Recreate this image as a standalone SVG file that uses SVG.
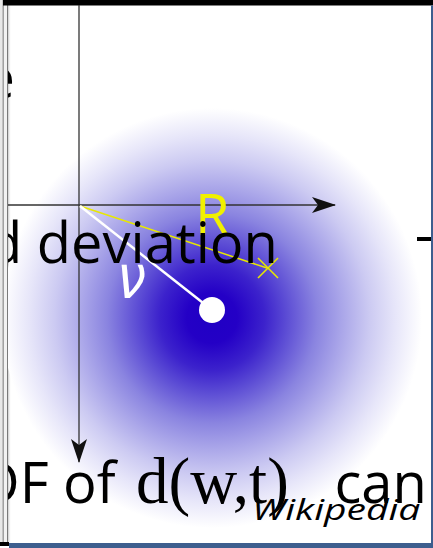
<svg xmlns="http://www.w3.org/2000/svg" width="433" height="548" viewBox="0 0 433 548">
<style>
.big{font-family:"Open Sans","Noto Sans",sans-serif;font-size:56px;fill:#000}
.serif{font-family:"Liberation Serif","DejaVu Serif",serif;font-size:65px}
.axis{stroke:#333333;stroke-width:1.3;fill:none}
</style>
<defs>
<radialGradient id="blob" gradientUnits="userSpaceOnUse" cx="212" cy="318" r="210">
<stop offset="0" stop-color="#2000c4"/>
<stop offset="0.12" stop-color="#2400c6"/>
<stop offset="0.25" stop-color="#3c22cc"/>
<stop offset="0.35" stop-color="#5a4ad4"/>
<stop offset="0.5" stop-color="#8a84e0"/>
<stop offset="0.62" stop-color="#aaa6e9"/>
<stop offset="0.75" stop-color="#cccaf2"/>
<stop offset="0.87" stop-color="#e6e5f9"/>
<stop offset="1" stop-color="#ffffff"/>
</radialGradient>
<linearGradient id="edge" x1="0" y1="0" x2="1" y2="0">
<stop offset="0" stop-color="#d6d6d6"/>
<stop offset="1" stop-color="#ffffff" stop-opacity="0"/>
</linearGradient>
<clipPath id="slide"><rect x="8" y="5" width="423" height="538"/></clipPath>
<marker id="arr" viewBox="0 0 24 16" refX="23" refY="8" markerWidth="24" markerHeight="16" markerUnits="userSpaceOnUse" orient="auto">
<path d="M0,0 L24,8 L0,16 L6,8 Z" fill="#111"/>
</marker>
</defs>
<rect width="433" height="548" fill="#ffffff"/>
<g id="chrome">
<rect x="0" y="0" width="3" height="542" fill="#e8e8e8"/>
<rect x="2.6" y="0" width="1.2" height="542" fill="#8a8a8a"/>
<rect x="4" y="0" width="3" height="542" fill="#f2f2f2"/>
<rect x="7" y="0" width="1.3" height="542" fill="#7a7a7a"/>
<rect x="8.3" y="5" width="3" height="538" fill="url(#edge)"/>
<rect x="3" y="0" width="430" height="5.5" fill="#000"/>
<rect x="431" y="5.5" width="2" height="543" fill="#3d5e8e"/>
<rect x="9" y="543" width="424" height="5" fill="#3d5e8e"/>
<rect x="0" y="542" width="9" height="4" fill="#000"/>
</g>
<g clip-path="url(#slide)">
<g id="figure">
<circle cx="212" cy="318" r="210" fill="url(#blob)"/>
<g id="connectors">
<line class="axis" x1="79" y1="5" x2="79" y2="462" marker-end="url(#arr)"/>
<line class="axis" x1="8" y1="205" x2="335" y2="205" marker-end="url(#arr)"/>
<line x1="80" y1="206" x2="267" y2="268" stroke="#e8e800" stroke-width="1.5"/>
<line x1="80" y1="206" x2="212" y2="310" stroke="#ffffff" stroke-width="2.5"/>
</g>
<g id="xmark" stroke="#e8e800" stroke-width="1.6">
<line x1="258" y1="258" x2="278" y2="278"/>
<line x1="258" y1="278" x2="278" y2="258"/>
</g>
<g id="dot"><circle cx="212" cy="310" r="13" fill="#ffffff"/></g>
<text id="R" x="195" y="235" font-family="'Open Sans','Noto Sans',sans-serif" font-size="56" fill="#f0f000">R</text>
<text id="nu" x="117" y="298" font-family="'DejaVu Sans',sans-serif" font-style="italic" font-size="60" fill="#ffffff" textLength="29" lengthAdjust="spacingAndGlyphs">ν</text>
</g>
<g id="slidetext">
<text class="big" x="15" y="98" text-anchor="end">e</text>
<text class="big" x="-12" y="263">d deviation</text>
<text y="503"><tspan class="big" x="-21">DF of </tspan><tspan class="serif" x="136">d(w,t)</tspan><tspan class="big" x="320"> can</tspan></text>
<rect x="417" y="237" width="16" height="4" fill="#000"/>
<text transform="translate(252,520) scale(1.3,1)" x="0" y="0" font-family="'Open Sans','Noto Sans',sans-serif" font-style="italic" font-size="30" fill="#000">Wikipedia</text>
</g>
</g>
</svg>
